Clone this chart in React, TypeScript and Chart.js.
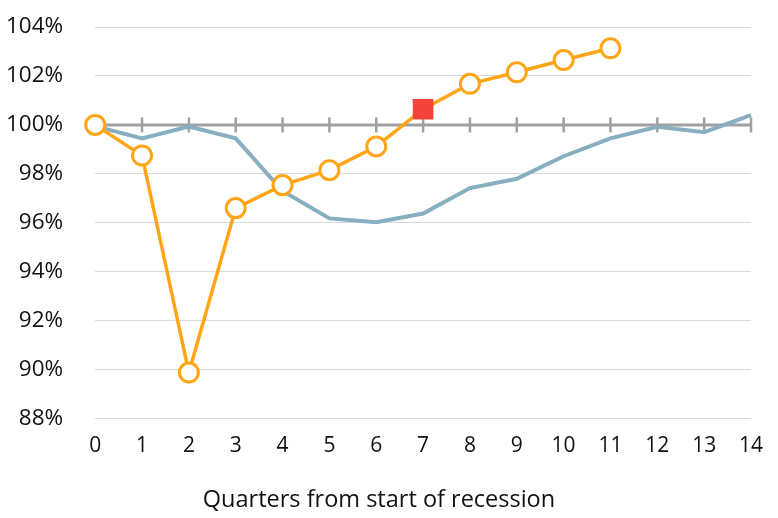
import React, { useEffect, useRef } from "react";
import { Chart, registerables } from "chart.js";

Chart.register(...registerables);

const quarters = ["0","1","2","3","4","5","6","7","8","9","10","11","12","13","14"];
const currentRecession = [100.0, 98.75, 89.88, 96.6, 97.54, 98.15, 99.12, 100.64, 101.68, 102.15, 102.65, 103.13];
const averageRecession = [99.95, 99.45, 99.93, 99.45, 97.3, 96.18, 96.02, 96.38, 97.42, 97.8, 98.72, 99.45, 99.92, 99.7, 100.4];
const highlightIndex = 7;
const yMin = 88;
const yMax = 104;
const yStep = 2;
const xTitle = "Quarters from start of recession";

const ORANGE = "#FFA516";
const BLUE = "#86AFBF";
const RED = "#F4433A";
const FONT = "'Open Sans', sans-serif";

const baselinePlugin = {
  id: "baseline",
  beforeDatasetsDraw(chart: any) {
    const { ctx, scales } = chart;
    const xs = scales.x;
    const ys = scales.y;
    const y = ys.getPixelForValue(100);
    ctx.save();
    ctx.strokeStyle = "#A0A0A0";
    ctx.lineWidth = 3;
    ctx.beginPath();
    ctx.moveTo(xs.left, y);
    ctx.lineTo(xs.right, y);
    ctx.stroke();
    ctx.lineWidth = 2.5;
    for (let i = 1; i < quarters.length; i++) {
      const x = xs.getPixelForValue(i);
      ctx.beginPath();
      ctx.moveTo(x, y - 7.5);
      ctx.lineTo(x, y + 7.5);
      ctx.stroke();
    }
    ctx.restore();
  },
};

export default function App() {
  const ref = useRef<HTMLCanvasElement | null>(null);
  useEffect(() => {
    document.body.style.margin = "0";
    const canvas = ref.current;
    if (!canvas) return;
    const radii = currentRecession.map((_, i) => (i === highlightIndex ? 12.5 : 9.5));
    const styles = currentRecession.map((_, i) => (i === highlightIndex ? "rect" : "circle"));
    const bgs = currentRecession.map((_, i) => (i === highlightIndex ? RED : "#FFFFFF"));
    const borders = currentRecession.map((_, i) => (i === highlightIndex ? RED : ORANGE));
    const chart = new Chart(canvas, {
      type: "line",
      data: {
        labels: quarters,
        datasets: [
          {
            label: "Current",
            data: currentRecession,
            borderColor: ORANGE,
            borderWidth: 3.5,
            pointRadius: radii,
            pointStyle: styles as any,
            pointBackgroundColor: bgs,
            pointBorderColor: borders,
            pointBorderWidth: 3,
            tension: 0,
          },
          {
            label: "Average",
            data: averageRecession,
            borderColor: BLUE,
            borderWidth: 4,
            pointRadius: 0,
            tension: 0,
          },
        ],
      },
      options: {
        animation: false,
        responsive: false,
        layout: { autoPadding: false, padding: { top: 27, right: 24, left: 4, bottom: 4 } },
        plugins: {
          legend: { display: false },
          tooltip: { enabled: false },
          title: {
            display: true,
            text: xTitle,
            position: "bottom",
            color: "#111",
            font: { family: FONT, size: 23.5, weight: "normal" },
            padding: { top: 12, bottom: 0 },
          },
        },
        scales: {
          x: {
            offset: false,
            grid: { display: false, drawTicks: false },
            border: { display: false },
            ticks: {
              color: "#111",
              font: { family: FONT, size: 21 },
              padding: 15,
              maxRotation: 0,
              autoSkip: false,
            },
          },
          y: {
            min: yMin,
            max: yMax,
            grid: { color: "#D9D9D9", lineWidth: 1, drawTicks: true, tickLength: 30, tickColor: "rgba(0,0,0,0)" },
            border: { display: false },
            ticks: {
              stepSize: yStep,
              color: "#111",
              font: { family: FONT, size: 22.5 },
              padding: 2,
              callback: (v: any) => `${v}%`,
            },
          },
        },
      },
      plugins: [baselinePlugin],
    });
    return () => chart.destroy();
  }, []);
  return (
    <div style={{ width: 778, height: 518 }}>
      <canvas ref={ref} width={778} height={518} />
    </div>
  );
}
